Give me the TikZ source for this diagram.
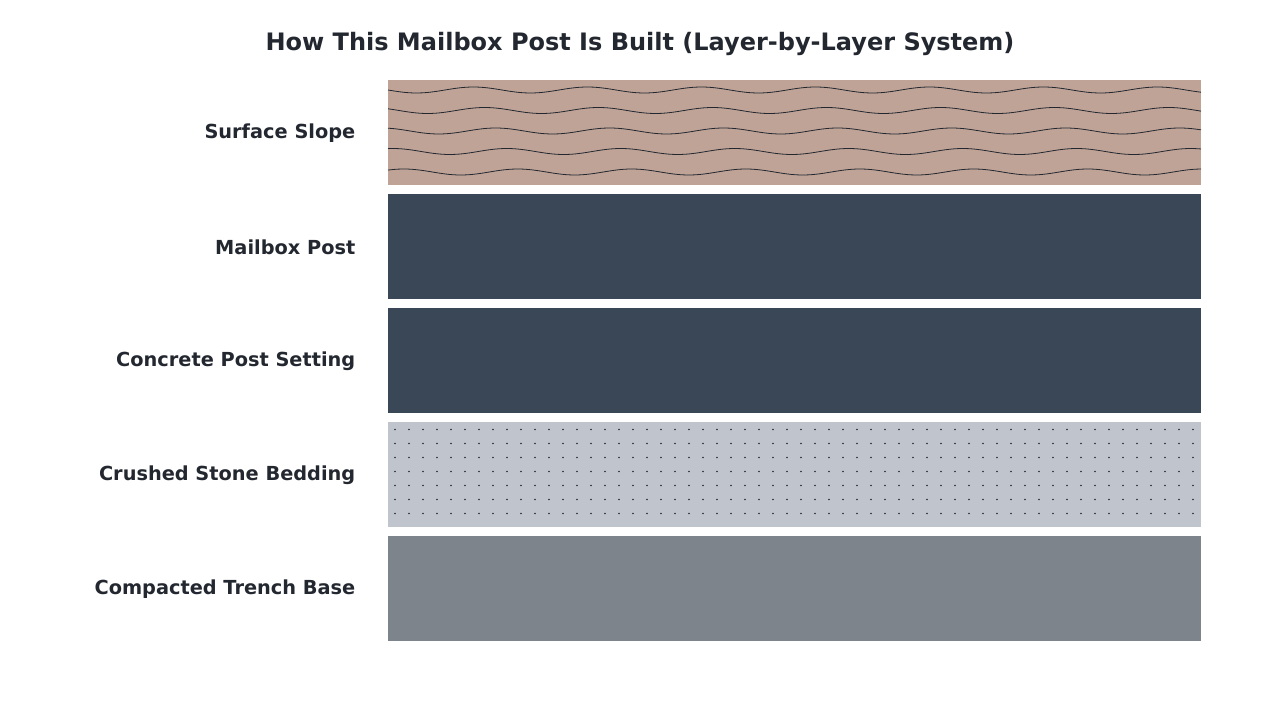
\documentclass[tikz,border=0pt]{standalone}
\usepackage{fontspec}
\setmainfont{DejaVu Sans}
\definecolor{inkc}{HTML}{23272F}
\definecolor{slopec}{HTML}{BFA397}
\definecolor{postc}{HTML}{3A4757}
\definecolor{stonec}{HTML}{C0C4CC}
\definecolor{basec}{HTML}{7D848B}
\tikzset{
  layerbox/.style={draw=none, inner sep=0pt, minimum width=813*0.75pt, minimum height=105*0.75pt, anchor=north west},
  layerlabel/.style={anchor=east, font=\bfseries\fontsize{14.5}{17}\selectfont, text=inkc}
}
\begin{document}
\begin{tikzpicture}[x=0.75pt, y=-0.75pt]
        \useasboundingbox (0,0) rectangle (1280,720);
        % Title
        \node[font=\bfseries\fontsize{18}{22}\selectfont, text=inkc] (title) at (640,44) {How This Mailbox Post Is Built (Layer-by-Layer System)};

        % Layers
        \node[layerbox, fill=slopec] (slope) at (388,80) {};
        \node[layerbox, fill=postc] (post) at (388,194) {};
        \node[layerbox, fill=postc] (setting) at (388,308) {};
        \node[layerbox, fill=stonec] (stone) at (388,422) {};
        \node[layerbox, fill=basec] (base) at (388,536) {};

        % Labels
        \node[layerlabel] (slopelbl) at (360,133) {Surface Slope};
        \node[layerlabel] (postlbl) at (360,247) {Mailbox Post};
        \node[layerlabel] (settinglbl) at (360,361) {Concrete Post Setting};
        \node[layerlabel] (stonelbl) at (360,475) {Crushed Stone Bedding};
        \node[layerlabel] (baselbl) at (360,589) {Compacted Trench Base};

        % Wavy pattern
        \foreach \k in {0,...,4}
          \draw[inkc, line width=0.6pt] plot[domain=388:1201, samples=120, smooth]
            (\x, {90+20.5*\k+3*sin(deg((\x-388)/114*2*pi) - 35*\k)});

        % Stone dots
        \foreach \i in {0,...,57}
          \foreach \j in {0,...,6}
            \fill[inkc] (395+14*\i, 429.5+14*\j) circle (0.9);
    \end{tikzpicture}
\end{document}
